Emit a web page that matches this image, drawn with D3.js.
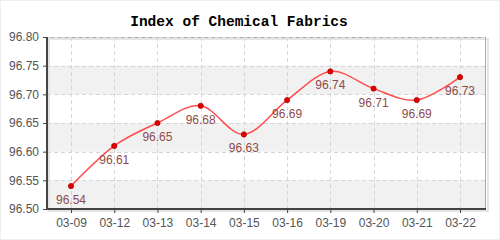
<!DOCTYPE html>
<html>
<head>
<meta charset="utf-8">
<script src="https://cdn.jsdelivr.net/npm/d3@7"></script>
<style>
  body { margin: 0; background: #fff; }
  svg { display: block; }
</style>
</head>
<body>
<svg id="chart" width="500" height="240"></svg>
<script>
// data
let dates = ["03-09", "03-12", "03-13", "03-14", "03-15", "03-16", "03-19", "03-20", "03-21", "03-22"];
let values = [96.54, 96.61, 96.65, 96.68, 96.63, 96.69, 96.74, 96.71, 96.69, 96.73];
let yTicks = [96.50, 96.55, 96.60, 96.65, 96.70, 96.75, 96.80];

let svg = d3.select("#chart");
let pLeft = 47, pRight = 486, pTop = 37, pBottom = 209;

let x = d3.scalePoint().domain(dates).range([71, 460]);
let y = d3.scaleLinear().domain([96.50, 96.80]).range([pBottom, pTop]);

// outer frame
svg.append("rect")
    .attr("x", 0.5).attr("y", 0.5).attr("width", 499).attr("height", 239)
    .attr("fill", "none").attr("stroke", "#eee");

// alternating bands
let bands = svg.append("g");
for (let i = 0; i < yTicks.length - 1; i++) {
    if (i % 2 == 0) {
        bands.append("rect")
            .attr("x", pLeft).attr("width", pRight - pLeft)
            .attr("y", y(yTicks[i + 1])).attr("height", y(yTicks[i]) - y(yTicks[i + 1]))
            .attr("fill", "#f1f1f1");
    }
}

// plot border (shadow + light frame)
svg.append("rect")
    .attr("x", pLeft + 2).attr("y", pTop + 2).attr("width", pRight - pLeft).attr("height", pBottom - pTop)
    .attr("fill", "none").attr("stroke", "#e4e4e4").attr("stroke-width", 2);
svg.append("rect")
    .attr("x", pLeft).attr("y", pTop + 0.5).attr("width", pRight - pLeft - 0.5).attr("height", pBottom - pTop)
    .attr("fill", "none").attr("stroke", "#aaa");

// grid
let grid = svg.append("g").attr("stroke", "#d6d6d6").attr("stroke-dasharray", "4,3");
grid.selectAll(".h").data(yTicks.slice(1, -1)).enter().append("line")
    .attr("x1", pLeft).attr("x2", pRight)
    .attr("y1", d => Math.round(y(d)) + 0.5).attr("y2", d => Math.round(y(d)) + 0.5);
grid.append("line")
    .attr("x1", pLeft).attr("x2", pRight).attr("y1", pTop + 0.5).attr("y2", pTop + 0.5);
grid.selectAll(".v").data(dates).enter().append("line")
    .attr("x1", d => Math.round(x(d)) + 0.5).attr("x2", d => Math.round(x(d)) + 0.5)
    .attr("y1", pTop).attr("y2", pBottom);

// axes
let xAxis = svg.append("g")
    .attr("transform", "translate(0," + pBottom + ")")
    .call(d3.axisBottom(x).tickSize(4).tickPadding(5));
xAxis.select(".domain").remove();
xAxis.append("line").attr("x1", pLeft - 1).attr("x2", pRight).attr("y1", 0).attr("y2", 0)
    .attr("stroke", "#444").attr("stroke-width", 2);

let yAxis = svg.append("g")
    .attr("transform", "translate(" + pLeft + ",0)")
    .call(d3.axisLeft(y).tickValues(yTicks).tickFormat(d3.format(".2f")).tickSize(4).tickPadding(4));
yAxis.select(".domain").remove();
yAxis.append("line").attr("x1", 0).attr("x2", 0).attr("y1", pTop).attr("y2", pBottom + 1)
    .attr("stroke", "#444").attr("stroke-width", 2);

svg.selectAll(".tick text")
    .attr("fill", "#555")
    .style("font-family", "Arial, 'Liberation Sans', sans-serif")
    .style("font-size", "12px");
svg.selectAll(".tick line").attr("stroke", "#444");

// line
let line = d3.line()
    .x((d, i) => x(dates[i]))
    .y(d => y(d))
    .curve(d3.curveCardinal.tension(0));

svg.append("path")
    .datum(values)
    .attr("d", line)
    .attr("fill", "none")
    .attr("stroke", "#ff4d4d")
    .attr("stroke-width", 1.5);

svg.append("g").selectAll("circle")
    .data(values).enter().append("circle")
    .attr("cx", (d, i) => x(dates[i]))
    .attr("cy", d => y(d))
    .attr("r", 2.6)
    .attr("fill", "#e00000")
    .attr("stroke", "#b00000")
    .attr("stroke-width", 0.8);

svg.append("g").selectAll("text")
    .data(values).enter().append("text")
    .attr("x", (d, i) => x(dates[i]))
    .attr("y", d => y(d) + 18)
    .attr("text-anchor", "middle")
    .attr("fill", "#8e4a4a")
    .style("font-family", "Arial, 'Liberation Sans', sans-serif")
    .style("font-size", "12px")
    .text(d => d.toFixed(2));

// title
svg.append("text")
    .attr("x", 239).attr("y", 26)
    .attr("text-anchor", "middle")
    .style("font-family", "'Liberation Mono', 'DejaVu Sans Mono', monospace")
    .style("font-weight", "bold")
    .style("font-size", "14.5px")
    .attr("fill", "#000")
    .text("Index of Chemical Fabrics");
</script>
</body>
</html>
